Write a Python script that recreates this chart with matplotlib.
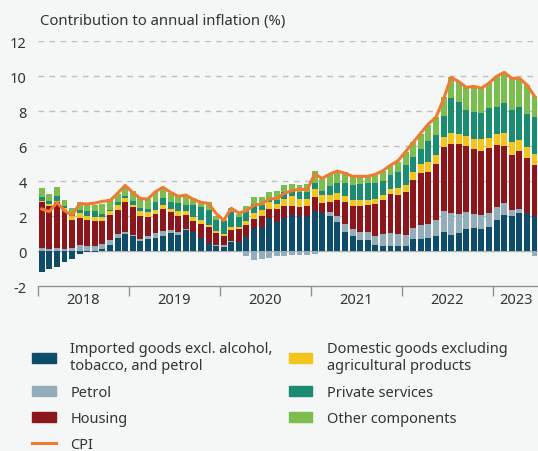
import matplotlib
matplotlib.use("Agg")
import matplotlib.pyplot as plt
from matplotlib.patches import Patch
from matplotlib.lines import Line2D
import numpy as np

plt.rcParams['font.family'] = ['Noto Sans', 'DejaVu Sans']

# monthly contributions, Jan 2018 - Jun 2023 (percentage points)
imported = [-1.18, -1.03, -0.90, -0.63, -0.48, -0.15, -0.05, -0.06, 0.13, 0.34, 0.74, 0.97,
            0.84, 0.57, 0.67, 0.74, 0.88, 1.03, 0.91, 1.20, 1.07, 0.74, 0.48, 0.27,
            0.21, 0.53, 0.50, 0.82, 1.30, 1.35, 1.87, 1.64, 1.87, 2.06, 1.98, 1.98,
            2.30, 2.17, 2.02, 1.68, 1.10, 0.88, 0.65, 0.63, 0.34, 0.27, 0.27, 0.27,
            0.27, 0.69, 0.69, 0.74, 0.84, 1.07, 0.91, 1.03, 1.26, 1.30, 1.26, 1.35,
            1.77, 2.06, 2.02, 2.17, 2.15, 2.02]
petrol = [0.17, 0.11, 0.15, 0.11, 0.15, 0.36, 0.27, 0.27, 0.27, 0.31, 0.23, 0.13,
          0.08, 0.12, 0.17, 0.27, 0.28, 0.17, 0.16, 0.06, 0.00, -0.05, 0.00, 0.07,
          0.13, 0.06, -0.05, -0.30, -0.50, -0.45, -0.38, -0.30, -0.30, -0.25, -0.22, -0.22,
          -0.15, 0.00, 0.19, 0.34, 0.44, 0.38, 0.42, 0.44, 0.54, 0.70, 0.76, 0.70,
          0.64, 0.61, 0.81, 0.80, 0.93, 1.23, 1.26, 1.08, 0.95, 0.81, 0.80, 0.82,
          0.73, 0.68, 0.32, 0.23, 0.02, -0.27]
housing = [2.65, 2.48, 2.67, 2.23, 1.64, 1.53, 1.50, 1.46, 1.33, 1.43, 1.37, 1.68,
           1.58, 1.33, 1.12, 1.10, 1.24, 1.01, 0.95, 0.80, 0.66, 0.80, 0.91, 0.69,
           0.54, 0.61, 0.76, 0.67, 0.53, 0.67, 0.53, 0.76, 0.72, 0.53, 0.51, 0.61,
           0.76, 0.57, 0.61, 0.91, 1.28, 1.33, 1.52, 1.56, 1.81, 1.96, 2.23, 2.23,
           2.48, 2.76, 2.96, 2.99, 3.20, 3.66, 3.94, 4.00, 3.77, 3.72, 3.67, 3.70,
           3.56, 3.24, 3.15, 3.33, 3.16, 2.89]
domestic = [0.06, 0.10, 0.06, 0.10, 0.23, 0.26, 0.23, 0.23, 0.23, 0.22, 0.31, 0.23,
            0.13, 0.25, 0.29, 0.25, 0.23, 0.19, 0.25, 0.24, 0.23, 0.23, 0.10, 0.13,
            0.09, 0.19, 0.13, 0.24, 0.34, 0.34, 0.38, 0.29, 0.38, 0.57, 0.48, 0.38,
            0.50, 0.46, 0.38, 0.38, 0.34, 0.34, 0.32, 0.29, 0.28, 0.27, 0.28, 0.38,
            0.38, 0.44, 0.51, 0.53, 0.52, 0.57, 0.63, 0.56, 0.57, 0.57, 0.67, 0.57,
            0.63, 0.76, 0.72, 0.61, 0.61, 0.63]
private = [0.22, 0.15, 0.24, 0.15, 0.05, 0.19, 0.29, 0.33, 0.15, 0.05, 0.13, 0.15,
           0.21, 0.17, 0.15, 0.42, 0.40, 0.38, 0.50, 0.35, 0.67, 0.76, 0.85, 0.63,
           0.76, 0.82, 0.53, 0.57, 0.52, 0.27, 0.19, 0.23, 0.38, 0.29, 0.42, 0.38,
           0.35, 0.25, 0.53, 0.58, 0.73, 0.84, 0.92, 0.95, 0.92, 0.82, 0.80, 0.91,
           1.14, 0.89, 0.86, 1.20, 1.14, 1.20, 2.00, 1.86, 1.51, 1.56, 1.49, 1.71,
           1.52, 1.71, 1.87, 1.87, 1.90, 2.10]
other = [0.50, 0.42, 0.56, 0.32, 0.40, 0.44, 0.34, 0.34, 0.58, 0.61, 0.48, 0.52,
         0.61, 0.57, 0.57, 0.57, 0.57, 0.52, 0.40, 0.55, 0.38, 0.31, 0.44, 0.23,
         0.05, 0.23, 0.19, 0.25, 0.38, 0.44, 0.42, 0.53, 0.42, 0.38, 0.38, 0.48,
         0.65, 0.66, 0.67, 0.64, 0.61, 0.53, 0.44, 0.44, 0.45, 0.57, 0.54, 0.61,
         0.73, 0.82, 0.86, 0.97, 1.01, 1.05, 1.18, 1.11, 1.29, 1.45, 1.42, 1.45,
         1.77, 1.75, 1.79, 1.66, 1.66, 1.20]
cpi = [2.40, 2.25, 2.78, 2.30, 2.05, 2.70, 2.69, 2.74, 2.84, 2.88, 3.30, 3.75,
       3.35, 3.00, 2.97, 3.39, 3.64, 3.35, 3.12, 3.20, 2.95, 2.78, 2.72, 2.15,
       1.75, 2.44, 2.17, 2.30, 2.62, 2.69, 2.97, 3.00, 3.30, 3.45, 3.54, 3.50,
       4.40, 4.15, 4.40, 4.57, 4.44, 4.27, 4.27, 4.27, 4.38, 4.59, 4.90, 5.16,
       5.68, 6.21, 6.74, 7.26, 7.64, 8.69, 9.92, 9.68, 9.35, 9.41, 9.31, 9.60,
       9.98, 10.21, 9.87, 9.87, 9.49, 8.84]

years = ['2018', '2019', '2020', '2021', '2022', '2023']
labels = ['Imported goods excl. alcohol,\ntobacco, and petrol', 'Petrol', 'Housing',
          'Domestic goods excluding\nagricultural products', 'Private services', 'Other components']
colors = ['#0f4c6a', '#93adbb', '#8b171c', '#f4c51f', '#1b8b72', '#7cbd4f']
cpi_color = '#ee7b31'
bg = '#f5f7f6'

series = [imported, petrol, housing, domestic, private, other]
x = np.arange(len(cpi))

fig = plt.figure(figsize=(5.38, 4.52), dpi=100, facecolor=bg)
ax = fig.add_axes([0.0706, 0.365, 0.9294, 0.542])
ax.set_facecolor(bg)

pos = np.zeros(len(x))
neg = np.zeros(len(x))
for vals, c in zip(series, colors):
    v = np.array(vals)
    bottom = np.where(v >= 0, pos, neg)
    ax.bar(x, v, bottom=bottom, width=0.78, color=c, linewidth=0, zorder=3)
    pos = pos + np.where(v >= 0, v, 0)
    neg = neg + np.where(v < 0, v, 0)

ax.plot(x, cpi, color=cpi_color, lw=2.2, zorder=4, solid_joinstyle='round')

ax.set_ylim(-2, 12)
ax.set_xlim(-0.5, 65.46)
ax.set_yticks(range(-2, 13, 2))
ax.set_yticklabels([str(t) for t in range(-2, 13, 2)])
for t in range(2, 13, 2):
    ax.axhline(t, color='#bdbdbd', lw=1, ls=(0, (4, 4)), zorder=1)
ax.axhline(0, color='#b0b0b0', lw=1, zorder=2)

for s in ['left', 'right', 'top']:
    ax.spines[s].set_visible(False)
ax.spines['bottom'].set_color('#909090')
ax.spines['bottom'].set_linewidth(1)

bounds = [-0.5, 11.5, 23.5, 35.5, 47.5, 59.5]
ax.set_xticks(bounds)
ax.set_xticklabels([])
ax.tick_params(axis='x', which='major', length=7, color='#909090', width=1)
ax.set_xticks([5.5, 17.5, 29.5, 41.5, 53.5, 62.5], minor=True)
ax.set_xticklabels(years, minor=True)
ax.tick_params(axis='x', which='minor', length=0, pad=4, labelsize=10.5, labelcolor='#333333')
ax.tick_params(axis='y', length=0, pad=8, labelsize=10.5, labelcolor='#333333')

fig.text(0.074, 0.953, 'Contribution to annual inflation (%)', fontsize=10.7,
         color='#333333', va='center', ha='left')

handles = [Patch(color=colors[0]), Patch(color=colors[1]), Patch(color=colors[2]),
           Line2D([], [], color=cpi_color, lw=2.2),
           Patch(color=colors[3]), Patch(color=colors[4]), Patch(color=colors[5])]
leg_labels = [labels[0], labels[1], labels[2], 'CPI', labels[3], labels[4], labels[5]]
fig.legend(handles, leg_labels, loc='upper left', bbox_to_anchor=(0.06, 0.243), ncol=2,
           frameon=False, fontsize=10.5, handlelength=1.6, handleheight=0.7,
           columnspacing=1.1, labelspacing=0.78, borderaxespad=0, borderpad=0,
           handletextpad=1.0, labelcolor='#333333')

fig.savefig('out.png', dpi=100, facecolor=bg)
